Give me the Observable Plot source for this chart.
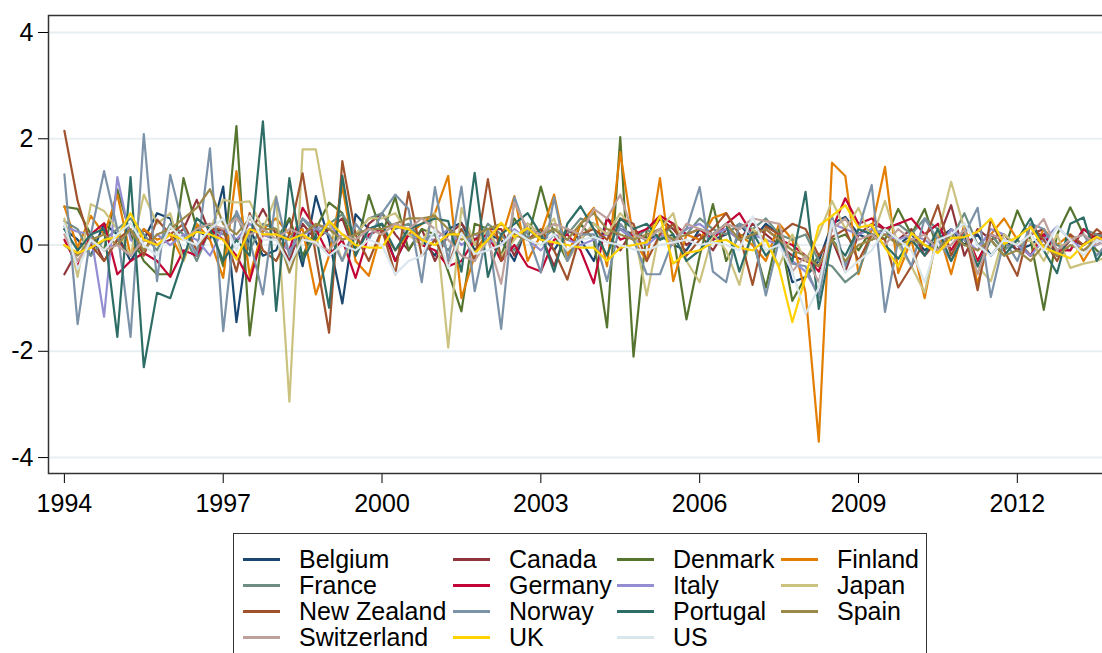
<!DOCTYPE html>
<html><head><meta charset="utf-8">
<script src="https://cdn.jsdelivr.net/npm/d3@7"></script>
<script src="https://cdn.jsdelivr.net/npm/@observablehq/plot@0.6"></script>
<style>
html,body{margin:0;padding:0;background:#fff;overflow:hidden;width:1102px;height:653px;}
#wrap{position:relative;width:1102px;height:653px;overflow:hidden;font-family:"Liberation Sans",Arial,sans-serif;background:#fff;}
#chart{position:absolute;left:0;top:0;width:1140px;height:523px;}
#chart svg{max-width:none !important;width:1140px !important;height:523px !important;}
#legend{position:absolute;left:233px;top:533px;width:694px;height:140px;border:1px solid #333;box-sizing:border-box;background:#fff;}
.item{position:absolute;height:26px;display:flex;align-items:center;font-size:25px;color:#000;white-space:nowrap;line-height:26px;}
.sw{display:inline-block;width:37px;height:3px;margin-right:19px;}
</style>
</head><body>
<div id="wrap"><div id="chart"></div><div id="legend"></div></div>
<script>
const countries = ["Belgium","Canada","Denmark","Finland","France","Germany","Italy","Japan","New Zealand","Norway","Portugal","Spain","Switzerland","UK","US"];
const colors = ["#1a476f","#90353b","#55752f","#e37e00","#6e8e84","#c10534","#938dd2","#cac27e","#a0522d","#7b92a8","#2d6d66","#9c8847","#bfa19c","#ffd200","#d9e6eb"];
const startYear = 1994; // quarterly, 1994Q1 ... 2013Q4
const xTicks = [1994,1997,2000,2003,2006,2009,2012];
const yTicks = [-4,-2,0,2,4];

const belgium = [0.3,0.1,-0.2,0.4, 0.2,-0.3,0.1,0.6, 0.5,-0.2,0.3,0.1, 1.1,-1.45,0.3,-0.2, -0.1,0.5,-0.4,0.92, 0.1,-1.1,0.58,0.3, 0.4,-0.3,0.2,0.1, -0.2,0.3,0.42,-0.1, 0.2,0.1,-0.3,0.4, 0.2,-0.1,0.3,0.1, -0.3,0.5,0.3,0.2, 0.1,0.2,0.0,-0.1, 0.3,0.1,0.2,0.4, 0.1,0.4,0.2,-0.7, -0.6,-0.3,0.4,0.53, 0.2,0.1,0.3,0.0, 0.2,-0.1,0.1,0.3, 0.0,0.2,-0.2,0.1, -0.1,0.0,0.2,-0.2, 0.1,0.0,0.2,0.1];
const canada = [-0.55,-0.1,0.2,-0.3, 0.1,-0.2,0.3,0.0, 0.1,0.3,0.85,0.2, 0.3,0.1,0.2,0.68, 0.2,-0.3,0.4,0.1, 0.3,0.5,-0.2,0.4, 0.6,0.2,-0.1,0.3, -0.3,0.2,0.4,0.1, 0.3,0.3,-0.2,0.4, 0.2,-0.4,0.3,0.1, 0.4,0.2,-0.1,0.3, 0.1,0.5,0.3,0.0, 0.2,-0.1,0.3,0.1, 0.4,0.2,0.0,-0.2, -0.3,-0.4,0.1,-0.5, 0.2,0.4,0.3,0.1, 0.3,-0.2,0.1,0.75, -0.2,0.3,0.1,0.2, -0.1,0.2,0.3,-0.2, 0.1,0.0,0.2,0.25];
const denmark = [0.72,0.68,0.2,-0.1, 1.05,0.2,-0.3,-0.55, -0.55,1.26,0.3,0.4, -0.4,2.24,-1.7,0.3, 0.1,0.5,-0.2,0.3, 0.8,0.6,-0.1,0.94, 0.2,0.9,-0.1,0.3, 0.2,-0.5,-1.25,0.4, 0.3,-0.2,0.5,0.1, 1.1,0.2,-0.3,0.4, 0.1,-1.55,2.03,-2.1, 0.3,0.5,0.2,-1.4, -0.2,0.77,-0.3,0.2, 0.1,-0.8,0.3,-1.05, -0.6,-0.2,0.1,0.2, -0.1,0.3,0.1,0.68, 0.2,0.68,-0.1,0.3, 0.1,-0.3,0.2,-0.1, 0.65,0.1,-1.22,0.2, 0.71,0.2,-0.1,-0.3];
const finland = [0.73,-0.05,0.55,0.2, 0.95,-0.2,0.3,0.1, 0.2,-0.3,0.4,0.1, -0.62,1.39,-0.58,0.3, 0.5,0.2,0.3,-0.93, -0.2,1.1,-0.3,-0.58, 0.3,-0.1,0.2,0.4, 0.6,1.3,-1.0,-0.2, 0.3,0.1,0.92,-0.3, 0.2,0.95,-0.2,0.4, 0.7,-0.4,1.75,0.1, -0.3,1.26,-0.68,0.2, 0.1,0.51,0.6,0.2, 0.0,-0.3,0.4,0.1, -0.9,-3.7,1.55,1.3, -0.55,0.3,1.47,-0.53, 0.1,-1.0,0.3,-0.55, 0.4,-0.73,0.2,0.5, 0.1,-0.2,0.3,0.0, 0.2,-0.3,0.1,0.2];
const france = [0.45,0.3,-0.2,0.1, 0.3,0.5,0.2,-0.1, 0.4,0.2,-0.3,0.3, 0.2,0.6,-0.1,0.4, 0.3,0.1,0.5,0.2, 0.4,0.58,0.2,0.5, 0.6,0.3,0.4,0.1, 0.2,-0.1,0.3,0.0, 0.4,0.2,-0.1,0.3, 0.1,0.3,0.2,0.5, 0.4,0.2,0.3,0.1, 0.3,0.1,0.4,0.2, 0.5,0.3,0.2,0.4, 0.3,0.5,0.2,0.1, 0.2,-0.3,-0.4,-0.7, -0.5,0.2,0.3,0.4, 0.2,0.5,0.3,0.1, 0.6,0.0,0.2,-0.1, 0.1,-0.2,0.2,0.0, -0.1,0.3,0.2,0.1];
const germany = [0.1,-0.4,0.2,0.41, -0.55,-0.3,-0.15,-0.3, -0.6,-0.1,-0.2,0.3, 0.1,-0.2,-0.68,0.2, 0.1,-0.1,0.7,0.3, -0.2,0.1,-0.62,0.2, 0.3,-0.3,0.2,0.0, -0.1,-0.4,-0.3,0.1, 0.2,-0.3,0.0,-0.4, -0.5,0.1,0.2,-0.1, -0.72,0.51,0.1,0.2, 0.3,0.55,0.4,0.2, 0.3,0.1,0.4,0.6, 0.2,0.3,0.1,0.0, -0.2,-0.5,0.3,0.88, 0.4,0.5,0.3,0.4, 0.5,0.2,0.4,-0.1, 0.3,-0.3,0.2,0.1, 0.0,-0.2,0.2,-0.1, -0.1,0.3,0.1,0.2];
const italy = [0.35,0.25,0.2,-1.35, 1.28,0.1,-0.1,0.2, 0.0,0.2,0.1,-0.2, 0.3,0.1,0.4,0.2, 0.1,-0.1,0.2,0.3, 0.4,0.1,0.2,0.3, 0.3,0.4,0.2,0.1, 0.1,0.3,0.0,0.2, 0.1,0.0,0.3,0.1, -0.1,0.2,0.1,0.0, 0.1,0.2,0.3,0.1, 0.0,0.2,0.1,0.3, 0.4,0.2,0.3,0.1, 0.2,0.1,0.0,-0.3, -0.5,-0.95,0.4,0.3, 0.2,0.3,0.2,0.1, 0.2,0.1,-0.1,0.3, 0.1,-0.1,0.3,0.2, 0.0,-0.2,0.1,0.35, 0.1,-0.1,0.0,0.2];
const japan = [0.5,-0.6,0.77,0.64, 0.3,-0.2,0.95,0.4, 0.6,-0.3,0.5,0.3, 0.85,0.8,0.82,0.3, 0.92,-2.95,1.8,1.8, 0.4,-0.3,0.2,0.5, 0.5,0.6,0.2,0.0, 0.6,-1.93,0.7,0.0, 0.3,-0.2,0.1,0.4, 0.2,0.5,-0.3,0.1, 0.4,0.2,0.6,0.3, -0.95,0.3,0.6,-0.3, -0.7,0.2,-0.1,-0.75, 0.3,0.1,-0.4,0.2, -0.3,0.2,0.83,0.3, 0.7,0.1,0.83,0.0, -0.4,-0.9,0.2,1.19, 0.3,-0.4,-0.68,0.2, 0.0,0.1,-0.3,0.2, -0.43,-0.35,-0.3,-0.2];
const newZealand = [2.15,0.83,0.0,-0.3, 0.1,0.3,-0.2,0.48, 0.2,0.4,-0.1,0.3, 0.3,-0.5,0.6,-0.1, -0.3,0.2,1.35,-0.2, -1.65,1.58,0.2,-0.3, 0.3,-0.55,1.0,-0.2, 0.1,-0.4,0.3,-0.3, 1.24,-0.3,0.2,0.1, 0.3,-0.1,-0.65,0.2, 0.3,0.1,0.5,0.4, -0.3,0.2,0.4,-0.2, 0.1,0.3,0.6,0.2, -0.75,0.35,0.2,0.4, 0.3,-0.2,0.15,0.3, -0.3,0.2,0.1,-0.8, -0.4,0.1,0.75,-0.2, 0.3,-0.85,0.49,-0.1, -0.58,0.4,0.1,-0.3, 0.2,0.0,0.3,0.1];
const norway = [1.33,-1.49,0.2,1.39, 0.3,-1.73,2.09,-0.68, 1.32,0.32,-0.2,1.82, -1.62,0.64,0.1,-0.93, 0.9,-0.2,0.5,0.3, 0.2,-0.3,0.4,0.1, 0.6,0.95,0.68,-0.7, 1.09,-0.3,1.1,-0.87, 0.3,-1.58,0.9,0.2, -0.52,0.9,-0.3,0.2, 0.2,-0.68,0.4,0.1, -0.55,-0.55,0.1,0.3, 1.09,-0.5,-0.7,0.4, 0.2,-0.95,0.1,-0.35, -0.4,-1.0,0.54,-0.4, 0.3,1.13,-1.26,0.1, -0.4,0.5,0.1,-0.3, 0.2,0.7,-0.98,0.1, -0.3,0.4,0.3,-0.1, 0.1,0.2,-0.2,0.1];
const portugal = [0.3,-0.1,0.2,0.3, -1.73,1.28,-2.3,-0.9, -1.0,-0.25,0.5,0.3, -0.3,0.1,-0.2,2.33, -1.24,1.26,-0.3,0.2, -1.18,1.3,-0.2,0.3, 0.4,-0.1,0.3,0.4, 0.5,0.45,-0.5,1.36, -0.6,0.2,0.4,0.6, 0.2,-0.5,0.4,0.73, 0.3,-0.2,0.5,0.3, 0.4,0.1,0.2,-0.3, -0.1,0.2,0.4,-0.5, 0.24,-0.2,0.1,-0.3, 1.0,-1.2,0.1,-0.2, 0.3,0.2,0.0,-0.26, 0.1,-0.2,0.3,-0.3, 0.2,-0.4,0.1,-0.2, 0.1,0.5,-0.1,-0.53, 0.4,0.52,-0.3,0.1];
const spain = [0.0,-0.2,0.1,0.2, 0.0,0.3,-0.1,0.2, 0.3,0.5,0.7,1.05, 0.4,0.2,0.5,0.3, 0.3,-0.52,0.2,0.4, 0.3,0.1,0.2,0.3, 0.3,0.4,0.5,0.5, 0.55,0.3,0.1,0.2, 0.3,0.4,0.2,0.1, 0.2,0.3,0.1,0.4, 0.6,0.3,0.2,0.1, 0.2,0.3,0.1,0.2, 0.3,0.2,0.4,0.1, 0.2,0.3,0.1,-0.1, -0.2,-0.4,0.1,-0.3, 0.0,0.1,0.2,0.0, 0.1,0.0,-0.1,0.2, 0.0,-0.1,0.1,-0.2, -0.1,-0.3,0.0,-0.2, 0.0,-0.1,0.1,0.0];
const switzerland = [0.2,-0.3,0.1,-0.1, 0.0,-0.2,0.1,0.0, 0.2,0.1,0.3,0.4, 0.3,0.5,0.2,0.3, 0.1,0.3,0.2,0.0, -0.1,0.2,0.1,0.3, 0.2,0.4,0.3,0.5, 0.3,0.1,-0.2,-0.3, 0.1,-0.73,0.8,0.3, 0.2,0.4,0.3,0.2, 0.68,0.5,0.95,0.2, 0.1,0.3,0.0,0.4, 0.3,0.2,0.4,0.3, 0.5,0.45,0.4,-0.5, -0.2,-0.7,0.3,0.5, 0.1,0.2,0.0,0.3, 0.1,0.2,-0.1,0.0, 0.3,-0.55,0.2,0.1, 0.0,0.2,0.49,-0.1, 0.1,0.2,0.0,0.1];
const uk = [0.0,-0.15,-0.05,0.1, 0.15,0.6,0.1,0.0, 0.2,0.1,0.25,0.2, 0.1,-0.27,0.3,0.2, 0.2,0.1,0.2,0.04, 0.45,0.2,0.0,-0.05, -0.05,0.35,0.3,0.1, 0.0,0.2,0.2,-0.15, 0.1,0.42,0.15,0.32, 0.1,0.05,0.0,-0.05, -0.05,-0.3,-0.05,0.0, 0.05,0.55,-0.35,-0.15, -0.1,0.05,0.1,-0.05, -0.1,0.1,-0.43,-1.45, -0.6,0.36,0.55,0.75, 0.33,0.38,-0.05,-0.4, 0.23,0.0,-0.15,0.13, 0.15,0.25,0.5,0.02, 0.15,0.34,-0.05,-0.15, -0.25,0.0,0.15,0.05];
const us = [0.4,-0.45,0.1,-0.1, 0.2,0.41,0.0,-0.2, 0.35,0.1,0.0,0.3, 0.5,-0.1,0.55,0.1, 0.1,-0.36,0.1,0.05, -0.2,0.0,-0.1,0.1, 0.0,-0.55,-0.3,-0.2, 0.3,-0.43,0.23,-0.17, -0.1,0.0,0.26,0.1, 0.0,0.2,-0.1,0.1, 0.15,0.05,0.0,-0.08, -0.1,0.0,0.05,0.1, 0.0,0.05,0.0,-0.1, 0.54,-0.1,0.0,-0.5, -1.3,-0.8,0.45,-0.52, -0.3,-0.1,0.3,0.1, -0.1,-0.7,0.1,0.2, 0.41,0.0,-0.2,0.1, 0.0,0.2,-0.1,0.35, 0.1,-0.2,0.1,0.0];

const series = [belgium,canada,denmark,finland,france,germany,italy,japan,newZealand,norway,portugal,spain,switzerland,uk,us];

const rows = [];
countries.forEach((c, ci) => series[ci].forEach((v, i) => rows.push({country: c, t: startYear + i / 4, v})));

const chart = Plot.plot({
  width: 1140, height: 523,
  marginLeft: 48, marginRight: 12, marginTop: 15, marginBottom: 50,
  style: {fontFamily: "'Liberation Sans', Arial, sans-serif", fontSize: "25px", color: "#000", background: "#fff", overflow: "visible", maxWidth: "none"},
  x: {domain: [1993.70, 2014.10], ticks: xTicks, tickFormat: d => String(d), tickSize: 10, tickPadding: 11, label: null},
  y: {domain: [-4.30, 4.32], ticks: yTicks, tickFormat: d => String(d), tickSize: 10, tickPadding: 5, label: null},
  color: {domain: countries, range: colors},
  marks: [
    Plot.ruleY(yTicks, {stroke: "#e8eff2", strokeWidth: 2}),
    Plot.line(rows, {x: "t", y: "v", z: "country", stroke: "country", strokeWidth: 2.2}),
    Plot.frame({stroke: "#333", strokeWidth: 1.5})
  ]
});
document.getElementById("chart").appendChild(chart);

const legend = document.getElementById("legend");
const colLeft = [9, 219, 383, 547];
countries.forEach((c, k) => {
  const row = Math.floor(k / 4), col = k % 4;
  const it = document.createElement("div");
  it.className = "item";
  it.style.left = colLeft[col] + "px";
  it.style.top = (12 + row * 26) + "px";
  const sw = document.createElement("span");
  sw.className = "sw";
  sw.style.background = colors[k];
  it.appendChild(sw);
  it.appendChild(document.createTextNode(c));
  legend.appendChild(it);
});
</script>
</body></html>
